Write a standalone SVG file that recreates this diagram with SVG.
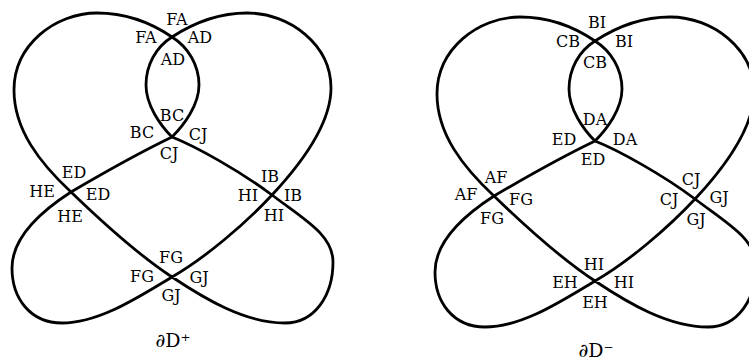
<svg xmlns="http://www.w3.org/2000/svg" xmlns:xlink="http://www.w3.org/1999/xlink" width="749" height="360" viewBox="0 0 749 360">
<style>
.c{fill:none;stroke:#000;stroke-width:2.8;stroke-linejoin:round;stroke-linecap:round}
text{font-family:"DejaVu Serif","Liberation Serif",serif;font-size:16px;fill:#000;text-anchor:middle}
.cap{font-size:19px}
</style>
<defs>
<path id="curve" class="c" d="M172,37 C150,22 125,13 97,13 C55,13 14,45 14,90 C14,130 40,163 71,192 C100,220 140,256 172,277 C205,299 245,323 285,323 C315,323 333,295 333,262 C333,235 305,220 272,195 C240,171 195,146 172,137 C160,125 146,105 146,85 C146,65 156,47 172,37 C195,22 220,13 247,13 C290,13 331,45 331,88 C331,125 300,165 272,195 C245,224 205,258 172,277 C140,296 100,323 62,323 C30,323 12,298 12,268 C12,238 40,212 71,192 C105,172 145,150 172,137 C184,125 199,105 199,85 C199,65 188,47 172,37 Z"/>
</defs>
<g id="plus">
<use xlink:href="#curve" href="#curve"/>
<text x="177" y="25">FA</text>
<text x="146" y="43">FA</text>
<text x="200" y="43">AD</text>
<text x="173" y="65">AD</text>
<text x="172" y="121">BC</text>
<text x="142" y="138">BC</text>
<text x="198" y="140">CJ</text>
<text x="169" y="159">CJ</text>
<text x="74" y="178">ED</text>
<text x="42" y="197">HE</text>
<text x="98" y="200">ED</text>
<text x="70" y="222">HE</text>
<text x="270" y="182">IB</text>
<text x="248" y="201">HI</text>
<text x="293" y="201">IB</text>
<text x="274" y="221">HI</text>
<text x="171" y="263">FG</text>
<text x="142" y="282">FG</text>
<text x="199" y="283">GJ</text>
<text x="171" y="301">GJ</text>
<text class="cap" x="173" y="347">∂D⁺</text>
</g>
<g id="minus">
<use xlink:href="#curve" href="#curve" transform="translate(423,4)"/>
<text x="597" y="28">BI</text>
<text x="568" y="47">CB</text>
<text x="624" y="47">BI</text>
<text x="595" y="68">CB</text>
<text x="595" y="125">DA</text>
<text x="564" y="145">ED</text>
<text x="625" y="145">DA</text>
<text x="593" y="165">ED</text>
<text x="496" y="183">AF</text>
<text x="466" y="200">AF</text>
<text x="521" y="205">FG</text>
<text x="492" y="224">FG</text>
<text x="691" y="185">CJ</text>
<text x="669" y="205">CJ</text>
<text x="719" y="203">GJ</text>
<text x="696" y="225">GJ</text>
<text x="594" y="270">HI</text>
<text x="565" y="288">EH</text>
<text x="624" y="288">HI</text>
<text x="595" y="308">EH</text>
<text class="cap" x="596" y="357">∂D⁻</text>
</g>
</svg>
